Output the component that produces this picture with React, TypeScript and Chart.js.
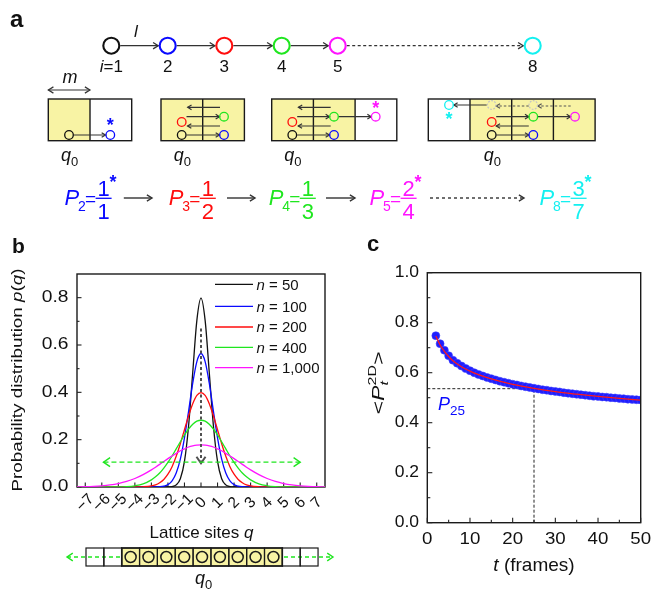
import React, { useEffect, useRef } from 'react';
import { Chart, registerables } from 'chart.js';

Chart.register(...registerables);

const FF = '"Liberation Sans", Arial, Helvetica, sans-serif';
const INK = '#111111';
const LINE = '#333333';
const BLUE = '#0a0aff';
const RED = '#ff0d0d';
const GREEN = '#1fe61f';
const MAGENTA = '#ff14ff';
const CYAN = '#14f0f0';
const YELLOW = '#f8f3a4';

// ---------------- panel a : schematic ----------------
const chainSites = ['1', '2', '3', '4', '5', '8'];
const chainColors = [INK, BLUE, RED, GREEN, MAGENTA, CYAN];
const chainX = [111.3, 167.7, 224.3, 281.7, 337.7, 532.7];
const boxLeft = [48.3, 161, 271.7, 428.3];
const boxOccupied = [[1, 0], [1, 1], [1, 1, 0], [0, 1, 1, 1]];
const dotX = [69, 110.3, 181.7, 181.7, 224, 224, 292.3, 292.3, 334, 334, 375.7, 449, 491.7, 491.7, 533.3, 533.3, 575];
const dotY = [135, 135, 122, 135, 116.7, 135, 122, 135, 116.7, 135, 116.7, 105, 122, 135, 116.7, 135, 116.7];
const dotColors = [INK, BLUE, RED, INK, GREEN, BLUE, RED, INK, GREEN, BLUE, MAGENTA, CYAN, RED, INK, GREEN, BLUE, MAGENTA];
const ghostX = [491.7, 533.3];
const starX = [110.3, 375.7, 449];
const starY = [120.7, 104.3, 115];
const starColors = [BLUE, MAGENTA, CYAN];
// x1, y1, x2, y2, dashed
const hops = [
  [73.5, 135, 105.5, 135, 0],
  [220, 107.3, 187.7, 107.3, 0], [186.5, 116.7, 219.5, 116.7, 0], [220, 126, 187.5, 126, 0], [186.5, 135, 219.5, 135, 0],
  [330.7, 107.3, 298.4, 107.3, 0], [297.2, 116.7, 329.5, 116.7, 0], [330.7, 126, 298.2, 126, 0], [297.2, 135, 329.5, 135, 0],
  [338.5, 116.7, 371.2, 116.7, 0],
  [486.7, 105, 453.8, 105, 0], [528.8, 106, 496.2, 106, 1], [570.7, 106, 537.8, 106, 1],
  [496.2, 116.7, 528.8, 116.7, 0], [537.8, 116.7, 570.5, 116.7, 0], [528.8, 126, 496.2, 126, 0], [496.2, 135, 528.8, 135, 0],
];
const qZeroX = [69, 181.7, 292.3, 491.7];
const fracSub = ['2', '3', '4', '5', '8'];
const fracNum = ['1', '1', '1', '2', '3'];
const fracDen = ['1', '2', '3', '4', '7'];
const fracStar = [true, false, false, true, true];
const fracX = [64.6, 168.8, 268.8, 369.6, 539.6];
const fracColors = [BLUE, RED, GREEN, MAGENTA, CYAN];
const flowArrows = [[123.8, 152], [227, 255], [326, 355], [430, 524]];

// ---------------- panel b : lattice distributions ----------------
const qSites = [-7.5, -7, -6.5, -6, -5.5, -5, -4.5, -4, -3.5,
  -3, -2.75, -2.5, -2.25, -2, -1.75, -1.5, -1.25, -1, -0.75, -0.5, -0.25, 0, 0.25, 0.5, 0.75, 1, 1.25, 1.5, 1.75, 2, 2.25, 2.5, 2.75, 3,
  3.5, 4, 4.5, 5, 5.5, 6, 6.5, 7, 7.5];
const p50 = [0, 0, 0, 0, 0, 0, 0, 0, 0,
  0, 0, 0, 0, 0.0003, 0.0017, 0.0089, 0.035, 0.108, 0.259, 0.484, 0.704, 0.798, 0.704, 0.484, 0.259, 0.108, 0.035, 0.0089, 0.0017, 0.0003, 0, 0, 0, 0,
  0, 0, 0, 0, 0, 0, 0, 0, 0];
const p100 = [0, 0, 0, 0, 0, 0, 0, 0, 0,
  0.0001, 0.0003, 0.0011, 0.0036, 0.010, 0.026, 0.059, 0.118, 0.208, 0.321, 0.439, 0.530, 0.564, 0.530, 0.439, 0.321, 0.208, 0.118, 0.059, 0.026, 0.010, 0.0036, 0.0011, 0.0003, 0.0001,
  0, 0, 0, 0, 0, 0, 0, 0, 0];
const p200 = [0, 0, 0, 0, 0, 0, 0, 0.0001, 0.0009,
  0.0044, 0.009, 0.018, 0.032, 0.054, 0.086, 0.130, 0.183, 0.242, 0.301, 0.352, 0.387, 0.399, 0.387, 0.352, 0.301, 0.242, 0.183, 0.130, 0.086, 0.054, 0.032, 0.018, 0.009, 0.0044,
  0.0009, 0.0001, 0, 0, 0, 0, 0, 0, 0];
const p400 = [0, 0, 0, 0, 0.0001, 0.0005, 0.0018, 0.0052, 0.013,
  0.030, 0.043, 0.059, 0.080, 0.104, 0.131, 0.161, 0.191, 0.220, 0.245, 0.265, 0.278, 0.282, 0.278, 0.265, 0.245, 0.220, 0.191, 0.161, 0.131, 0.104, 0.080, 0.059, 0.043, 0.030,
  0.013, 0.0052, 0.0018, 0.0005, 0.0001, 0, 0, 0, 0];
const p1000 = [0.0006, 0.0013, 0.0026, 0.0049, 0.0087, 0.0146, 0.0235, 0.036, 0.0524,
  0.0725, 0.0837, 0.0955, 0.108, 0.120, 0.131, 0.142, 0.153, 0.161, 0.169, 0.174, 0.177, 0.178, 0.177, 0.174, 0.169, 0.161, 0.153, 0.142, 0.131, 0.120, 0.108, 0.0955, 0.0837, 0.0725,
  0.0524, 0.036, 0.0235, 0.0146, 0.0087, 0.0049, 0.0026, 0.0013, 0.0006];
const legendN = ['50', '100', '200', '400', '1,000'];
const seriesB = [p50, p100, p200, p400, p1000];
const seriesColors = [INK, BLUE, RED, GREEN, MAGENTA];
const qTicks = [-7, -6, -5, -4, -3, -2, -1, 0, 1, 2, 3, 4, 5, 6, 7];
const qTickLabels = ['\u22127', '\u22126', '\u22125', '\u22124', '\u22123', '\u22122', '\u22121', '0', '1', '2', '3', '4', '5', '6', '7'];
const pTicks = [0, 0.2, 0.4, 0.6, 0.8];
const pTickLabels = ['0.0', '0.2', '0.4', '0.6', '0.8'];
const latticeOccupied = [0, 0, 1, 1, 1, 1, 1, 1, 1, 1, 1, 0, 0];

// ---------------- panel c : <P_t^2D> vs t ----------------
const tFrames = [2, 3, 4, 5, 6, 7, 8, 9, 10, 11, 12, 13, 14, 15, 16, 17, 18, 19, 20, 21, 22, 23, 24, 25, 26,
  27, 28, 29, 30, 31, 32, 33, 34, 35, 36, 37, 38, 39, 40, 41, 42, 43, 44, 45, 46, 47, 48, 49, 50];
const pMean = [0.748, 0.716, 0.690, 0.668, 0.650, 0.638, 0.627, 0.617, 0.608, 0.600, 0.593, 0.587, 0.581, 0.576, 0.571,
  0.566, 0.562, 0.558, 0.554, 0.551, 0.547, 0.544, 0.541, 0.538, 0.535, 0.532, 0.530, 0.527, 0.525, 0.523, 0.520, 0.518,
  0.516, 0.514, 0.512, 0.510, 0.508, 0.506, 0.505, 0.503, 0.502, 0.500, 0.499, 0.497, 0.496, 0.494, 0.493, 0.492, 0.491];
const tFit = [2, 3, 4, 5, 6, 8, 10, 12, 15, 20, 25, 30, 35, 40, 45, 50];
const pFit = [0.747, 0.711, 0.685, 0.665, 0.648, 0.624, 0.606, 0.592, 0.575, 0.553, 0.537, 0.524, 0.514, 0.505, 0.497, 0.490];
const tMark = 25;
const pMark = 0.536;
const tTicks = [0, 10, 20, 30, 40, 50];
const cTicks = [0, 0.2, 0.4, 0.6, 0.8, 1.0];
const cTickLabels = ['0.0', '0.2', '0.4', '0.6', '0.8', '1.0'];

// ---------------- drawing helpers ----------------
type Seg = { t: string; size: number; it?: boolean; bold?: boolean; dy?: number; dx?: number; color?: string; keep?: boolean };
const fnt = (s: Seg) => `${s.it ? 'italic ' : ''}${s.bold ? 'bold ' : ''}${s.size}px ${FF}`;

function rich(ctx: CanvasRenderingContext2D, segs: Seg[], x: number, y: number, align: string = 'left', color = INK,
  rot = 0, sx = 1, baseline: CanvasTextBaseline = 'alphabetic') {
  ctx.save();
  const ws = segs.map((s) => { ctx.font = fnt(s); return ctx.measureText(s.t).width; });
  let w = 0;
  segs.forEach((s, i) => { if (!s.keep) w += ws[i] + (s.dx || 0); });
  ctx.translate(x, y);
  if (rot) ctx.rotate(rot);
  if (sx !== 1) ctx.scale(sx, 1);
  let cx = align === 'center' ? -w / 2 : align === 'right' ? -w : 0;
  ctx.textAlign = 'left';
  ctx.textBaseline = baseline;
  segs.forEach((s, i) => {
    ctx.font = fnt(s);
    ctx.fillStyle = s.color || color;
    ctx.fillText(s.t, cx + (s.dx || 0), s.dy || 0);
    if (!s.keep) cx += ws[i] + (s.dx || 0);
  });
  ctx.restore();
}

function seg(ctx: CanvasRenderingContext2D, x1: number, y1: number, x2: number, y2: number) {
  ctx.beginPath(); ctx.moveTo(x1, y1); ctx.lineTo(x2, y2); ctx.stroke();
}

function arrow(ctx: CanvasRenderingContext2D, x1: number, y1: number, x2: number, y2: number, color: string,
  lw = 1.3, dash: number[] = [], head = 5, both = false, ang = 0.55) {
  ctx.save();
  ctx.strokeStyle = color; ctx.lineWidth = lw; ctx.setLineDash(dash);
  seg(ctx, x1, y1, x2, y2);
  ctx.setLineDash([]);
  const tip = (tx: number, ty: number, fx: number, fy: number) => {
    const a = Math.atan2(ty - fy, tx - fx);
    ctx.beginPath();
    ctx.moveTo(tx - head * Math.cos(a - ang), ty - head * Math.sin(a - ang));
    ctx.lineTo(tx, ty);
    ctx.lineTo(tx - head * Math.cos(a + ang), ty - head * Math.sin(a + ang));
    ctx.stroke();
  };
  tip(x2, y2, x1, y1);
  if (both) tip(x1, y1, x2, y2);
  ctx.restore();
}

function innerTicks(chart: any, len: number, minorLen: number, minorX: boolean, minorY: boolean) {
  const { ctx, chartArea: a, scales: { x, y } } = chart;
  ctx.save();
  ctx.strokeStyle = '#222'; ctx.lineWidth = 1.1; ctx.setLineDash([]);
  const xv = x.ticks.map((t: any) => t.value);
  const yv = y.ticks.map((t: any) => t.value);
  xv.forEach((v: number) => { const p = x.getPixelForValue(v); seg(ctx, p, a.bottom, p, a.bottom - len); });
  yv.forEach((v: number) => { const p = y.getPixelForValue(v); seg(ctx, a.left, p, a.left + len, p); });
  if (minorX) for (let i = 1; i < xv.length; i++) {
    const p = x.getPixelForValue((xv[i - 1] + xv[i]) / 2); seg(ctx, p, a.bottom, p, a.bottom - minorLen);
  }
  if (minorY) for (let i = 1; i < yv.length; i++) {
    const p = y.getPixelForValue((yv[i - 1] + yv[i]) / 2); seg(ctx, a.left, p, a.left + minorLen, p);
  }
  ctx.restore();
}

function frame(chart: any) {
  const { ctx, chartArea: a } = chart;
  ctx.save();
  ctx.strokeStyle = '#1a1a1a'; ctx.lineWidth = 1.4; ctx.setLineDash([]);
  ctx.strokeRect(a.left, a.top, a.right - a.left, a.bottom - a.top);
  ctx.restore();
}

// ---------------- panel a plugin ----------------
const CELL = 41.7;
const BOX_TOP = 99;
const CHAIN_Y = 45.7;

const diagramPlugin = {
  id: 'diagramA',
  beforeDatasetsDraw(chart: any) {
    const { ctx, scales: { x, y } } = chart;
    const X = (v: number) => x.getPixelForValue(v);
    const Y = (v: number) => y.getPixelForValue(v);
    ctx.save();
    boxLeft.forEach((bl, bi) => {
      const cells = boxOccupied[bi];
      cells.forEach((occ, ci) => {
        if (occ) {
          ctx.fillStyle = YELLOW;
          ctx.fillRect(X(bl + ci * CELL), Y(BOX_TOP), X(bl + (ci + 1) * CELL) - X(bl + ci * CELL), Y(BOX_TOP + CELL) - Y(BOX_TOP));
        }
      });
      ctx.strokeStyle = '#1a1a1a'; ctx.lineWidth = 1.4;
      ctx.strokeRect(X(bl), Y(BOX_TOP), X(bl + cells.length * CELL) - X(bl), Y(BOX_TOP + CELL) - Y(BOX_TOP));
      for (let ci = 1; ci < cells.length; ci++) seg(ctx, X(bl + ci * CELL), Y(BOX_TOP), X(bl + ci * CELL), Y(BOX_TOP + CELL));
    });
    for (let i = 0; i < chainX.length - 1; i++) {
      const dashed = i === chainX.length - 2;
      arrow(ctx, X(chainX[i] + 9), Y(CHAIN_Y), X(chainX[i + 1] - 9.5), Y(CHAIN_Y), LINE, 1.3, dashed ? [3, 2.5] : [], 6);
    }
    hops.forEach((h) => {
      arrow(ctx, X(h[0]), Y(h[1]), X(h[2]), Y(h[3]), h[4] ? '#555' : LINE, 1.2, h[4] ? [2.5, 2] : [], 4.5);
    });
    arrow(ctx, X(48.3), Y(90), X(90), Y(90), LINE, 1.2, [], 6, true);
    flowArrows.forEach((f, i) => {
      const dashed = i === flowArrows.length - 1;
      arrow(ctx, X(f[0]), Y(198), X(f[1]), Y(198), LINE, 1.4, dashed ? [3, 3] : [], 6);
    });
    ctx.restore();
  },
  afterDatasetsDraw(chart: any) {
    const { ctx, scales: { x, y } } = chart;
    const X = (v: number) => x.getPixelForValue(v);
    const Y = (v: number) => y.getPixelForValue(v);
    ctx.save();
    ctx.strokeStyle = '#c4c4c4'; ctx.lineWidth = 1.2; ctx.setLineDash([1.8, 1.4]);
    ghostX.forEach((gx) => { ctx.beginPath(); ctx.arc(X(gx), Y(105), 4.3, 0, Math.PI * 2); ctx.stroke(); });
    ctx.setLineDash([]);
    starX.forEach((sx, i) => rich(ctx, [{ t: '*', size: 18, bold: true }], X(sx), Y(starY[i] + 10), 'center', starColors[i]));
    rich(ctx, [{ t: 'a', size: 24, bold: true }], X(10), Y(27), 'left', INK);
    rich(ctx, [{ t: 'l', size: 17, it: true }], X(136), Y(36.7), 'center', INK);
    chainSites.forEach((s, i) => {
      const segs: Seg[] = i === 0 ? [{ t: 'i', size: 17, it: true }, { t: '=' + s, size: 17 }] : [{ t: s, size: 17 }];
      rich(ctx, segs, X(chainX[i]), Y(71.7), 'center', INK);
    });
    rich(ctx, [{ t: 'm', size: 18, it: true }], X(70), Y(83), 'center', INK);
    qZeroX.forEach((qx) => {
      rich(ctx, [{ t: 'q', size: 18, it: true }, { t: '0', size: 13, dy: 5 }], X(qx - 8), Y(161), 'left', INK);
    });
    fracX.forEach((fx0, i) => {
      const col = fracColors[i];
      rich(ctx, [{ t: 'P', size: 22, it: true }], X(fx0), Y(205), 'left', col);
      rich(ctx, [{ t: fracSub[i], size: 14 }], X(fx0 + 13.5), Y(211), 'left', col);
      rich(ctx, [{ t: '=', size: 19 }], X(fx0 + 20.5), Y(205), 'left', col);
      const fc = fx0 + 39;
      rich(ctx, [{ t: fracNum[i], size: 22 }], X(fc), Y(196), 'center', col);
      rich(ctx, [{ t: fracDen[i], size: 22 }], X(fc), Y(218.5), 'center', col);
      ctx.strokeStyle = col; ctx.lineWidth = 1.3;
      seg(ctx, X(fc - 8), Y(198.3), X(fc + 8), Y(198.3));
      if (fracStar[i]) rich(ctx, [{ t: '*', size: 18, bold: true }], X(fc + 9.5), Y(187.5), 'center', col);
    });
    ctx.restore();
  },
};

// ---------------- panel b plugin ----------------
const panelBPlugin = {
  id: 'panelB',
  beforeDatasetsDraw(chart: any) {
    frame(chart);
    innerTicks(chart, 4.5, 2.5, false, true);
  },
  afterDatasetsDraw(chart: any) {
    const { ctx, chartArea: a, scales: { x, y } } = chart;
    ctx.save();
    arrow(ctx, x.getPixelForValue(0), y.getPixelForValue(0.67), x.getPixelForValue(0), y.getPixelForValue(0.1), '#505050', 2, [3, 2.5], 8, false, 0.6);
    arrow(ctx, x.getPixelForValue(-5.9), y.getPixelForValue(0.105), x.getPixelForValue(6.0), y.getPixelForValue(0.105), GREEN, 1.4, [5, 3], 8, true, 0.6);
    x.ticks.forEach((t: any, i: number) => {
      const p = x.getPixelForValue(t.value);
      rich(ctx, [{ t: qTickLabels[i], size: 15.5 }], p, a.bottom + 16, 'center', INK, -Math.PI / 4, 1, 'middle');
    });
    y.ticks.forEach((t: any, i: number) => {
      const p = y.getPixelForValue(t.value);
      rich(ctx, [{ t: pTickLabels[i], size: 16 }], 68.5, p, 'right', INK, 0, 1.2, 'middle');
    });
    rich(ctx, [{ t: 'Lattice sites ', size: 17 }, { t: 'q', size: 17, it: true }], 201.5, 308.3, 'center', INK);
    rich(ctx, [{ t: 'Probability distribution ', size: 14.5 }, { t: 'p', size: 14.5, it: true }, { t: '(', size: 14.5 },
      { t: 'q', size: 14.5, it: true }, { t: ')', size: 14.5 }], 22, 150, 'center', INK, -Math.PI / 2, 1.3);
    rich(ctx, [{ t: 'b', size: 21, bold: true }], 12, 23, 'left', INK);
    const rows = [54.3, 76.3, 97, 117.3, 137.7];
    legendN.forEach((n, i) => {
      ctx.strokeStyle = seriesColors[i]; ctx.lineWidth = 1.3;
      seg(ctx, 215, rows[i], 253, rows[i]);
      rich(ctx, [{ t: 'n', size: 15, it: true }, { t: ' = ' + n, size: 15 }], 256.5, rows[i] + 5.3, 'left', INK);
    });
    const L0 = 86, CW = 17.85, T = 318, H = 18, MID = 327;
    arrow(ctx, 67, MID, 333, MID, GREEN, 1.4, [4, 3], 7, true, 0.6);
    const first = latticeOccupied.indexOf(1);
    const last = latticeOccupied.lastIndexOf(1);
    ctx.fillStyle = YELLOW;
    ctx.fillRect(L0 + first * CW, T, (last - first + 1) * CW, H);
    ctx.strokeStyle = '#1a1a1a'; ctx.lineWidth = 1.2;
    latticeOccupied.forEach((occ, i) => { ctx.strokeRect(L0 + i * CW, T, CW, H); });
    ctx.lineWidth = 1.5;
    ctx.strokeRect(L0 + first * CW, T, (last - first + 1) * CW, H);
    latticeOccupied.forEach((occ, i) => {
      if (!occ) return;
      ctx.beginPath(); ctx.arc(L0 + (i + 0.5) * CW, MID, 5.5, 0, Math.PI * 2); ctx.stroke();
    });
    rich(ctx, [{ t: 'q', size: 18, it: true }, { t: '0', size: 13, dy: 5 }], 195, 354, 'left', INK);
    ctx.restore();
  },
};

// ---------------- panel c plugin ----------------
const panelCPlugin = {
  id: 'panelC',
  afterDatasetsDraw(chart: any) {
    const { ctx, chartArea: a, scales: { x, y } } = chart;
    frame(chart);
    innerTicks(chart, 5, 3, true, true);
    ctx.save();
    x.ticks.forEach((t: any, i: number) => {
      const p = x.getPixelForValue(t.value);
      rich(ctx, [{ t: String(tTicks[i]), size: 17 }], p, a.bottom + 16.6, 'center', INK, 0, 1.1, 'middle');
    });
    y.ticks.forEach((t: any, i: number) => {
      const p = y.getPixelForValue(t.value);
      rich(ctx, [{ t: cTickLabels[i], size: 17 }], 79, p, 'right', INK, 0, 1.03, 'middle');
    });
    rich(ctx, [{ t: 't', size: 19, it: true }, { t: ' (frames)', size: 19 }], 194, 341, 'center', INK);
    rich(ctx, [{ t: '<', size: 16 }, { t: 'P', size: 16, it: true }, { t: 't', size: 11, it: true, dy: 4, keep: true },
      { t: '2D', size: 11, dy: -7.5 }, { t: '>', size: 16 }], 43.5, 153, 'center', INK, -Math.PI / 2, 1.45);
    rich(ctx, [{ t: 'P', size: 18, it: true }, { t: '25', size: 13.5, dy: 4.5 }], x.getPixelForValue(2.5), 180, 'left', BLUE);
    rich(ctx, [{ t: 'c', size: 22, bold: true }], 27, 20.7, 'left', INK);
    ctx.restore();
  },
};

function makeA(canvas: HTMLCanvasElement) {
  return new Chart(canvas, {
    type: 'scatter',
    data: {
      datasets: [
        {
          data: chainX.map((cx) => ({ x: cx, y: CHAIN_Y })),
          pointRadius: 8, pointBorderWidth: 2.1,
          pointBorderColor: chainColors, pointBackgroundColor: 'rgba(0,0,0,0)',
        } as any,
        {
          data: dotX.map((dx, i) => ({ x: dx, y: dotY[i] })),
          pointRadius: 4.3, pointBorderWidth: 1.3,
          pointBorderColor: dotColors, pointBackgroundColor: 'rgba(0,0,0,0)',
        } as any,
      ],
    },
    options: {
      responsive: false, animation: false, events: [],
      layout: { padding: 0, autoPadding: false },
      plugins: { legend: { display: false }, tooltip: { enabled: false } },
      scales: {
        x: { type: 'linear', display: false, min: 0, max: 652 },
        y: { type: 'linear', display: false, min: 0, max: 230, reverse: true },
      },
    },
    plugins: [diagramPlugin],
  } as any);
}

function makeB(canvas: HTMLCanvasElement) {
  return new Chart(canvas, {
    type: 'line',
    data: {
      datasets: seriesB.map((vals, si) => ({
        data: qSites.map((q, i) => ({ x: q, y: vals[i] })),
        borderColor: seriesColors[si], borderWidth: 1.3, pointRadius: 0, fill: false,
        cubicInterpolationMode: 'monotone', order: seriesB.length - 1 - si,
      })),
    },
    options: {
      responsive: false, animation: false, events: [],
      layout: { padding: { left: 0, right: 10, top: 44, bottom: 0 }, autoPadding: false },
      plugins: { legend: { display: false }, tooltip: { enabled: false } },
      scales: {
        x: {
          type: 'linear', min: -7.5, max: 7.5,
          grid: { display: false, drawTicks: false }, border: { display: false }, ticks: { display: false },
          afterBuildTicks: (s: any) => { s.ticks = qTicks.map((v) => ({ value: v })); },
          afterFit: (s: any) => { s.height = 104; },
        },
        y: {
          type: 'linear', min: 0, max: 0.9,
          grid: { display: false, drawTicks: false }, border: { display: false }, ticks: { display: false },
          afterBuildTicks: (s: any) => { s.ticks = pTicks.map((v) => ({ value: v })); },
          afterFit: (s: any) => { s.width = 77; },
        },
      },
    },
    plugins: [panelBPlugin],
  } as any);
}

function makeC(canvas: HTMLCanvasElement) {
  return new Chart(canvas, {
    type: 'scatter',
    data: {
      datasets: [
        {
          data: tFit.map((t, i) => ({ x: t, y: pFit[i] })), showLine: true,
          borderColor: '#ff1a1a', borderWidth: 1.3, pointRadius: 0, cubicInterpolationMode: 'monotone', order: 0,
        },
        {
          data: tFrames.map((t, i) => ({ x: t, y: pMean[i] })),
          pointRadius: 4, pointBackgroundColor: '#1e1eff', pointBorderColor: 'rgba(70,70,255,0.55)', pointBorderWidth: 1, order: 1,
        },
        {
          data: [{ x: 0, y: pMark }, { x: tMark, y: pMark }], showLine: true,
          borderColor: '#222', borderWidth: 1, borderDash: [3, 2], pointRadius: 0, order: 2,
        },
        {
          data: [{ x: tMark, y: 0 }, { x: tMark, y: pMark }], showLine: true,
          borderColor: '#222', borderWidth: 1, borderDash: [3, 2], pointRadius: 0, order: 2,
        },
      ],
    },
    options: {
      responsive: false, animation: false, events: [],
      layout: { padding: { left: 0, right: 11.3, top: 42.7, bottom: 0 }, autoPadding: false },
      plugins: { legend: { display: false }, tooltip: { enabled: false } },
      scales: {
        x: {
          type: 'linear', min: 0, max: 50,
          grid: { display: false, drawTicks: false }, border: { display: false }, ticks: { display: false },
          afterBuildTicks: (s: any) => { s.ticks = tTicks.map((v) => ({ value: v })); },
          afterFit: (s: any) => { s.height = 68.3; },
        },
        y: {
          type: 'linear', min: 0, max: 1,
          grid: { display: false, drawTicks: false }, border: { display: false }, ticks: { display: false },
          afterBuildTicks: (s: any) => { s.ticks = cTicks.map((v) => ({ value: v })); },
          afterFit: (s: any) => { s.width = 87.3; },
        },
      },
    },
    plugins: [panelCPlugin],
  } as any);
}

export default function App() {
  const refA = useRef<HTMLCanvasElement>(null);
  const refB = useRef<HTMLCanvasElement>(null);
  const refC = useRef<HTMLCanvasElement>(null);
  useEffect(() => {
    const charts = [makeA(refA.current!), makeB(refB.current!), makeC(refC.current!)];
    return () => charts.forEach((c) => c.destroy());
  }, []);
  return (
    <div style={{ position: 'absolute', left: 0, top: 0, width: 652, height: 591, background: '#ffffff', overflow: 'hidden' }}>
      <canvas ref={refA} width={652} height={230} style={{ position: 'absolute', left: 0, top: 0, width: 652, height: 230 }} />
      <canvas ref={refB} width={335} height={361} style={{ position: 'absolute', left: 0, top: 230, width: 335, height: 361 }} />
      <canvas ref={refC} width={312} height={361} style={{ position: 'absolute', left: 340, top: 230, width: 312, height: 361 }} />
    </div>
  );
}
